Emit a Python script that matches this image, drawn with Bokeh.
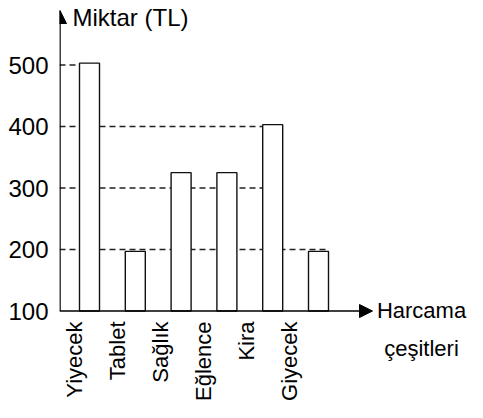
import math
from bokeh.plotting import figure
from bokeh.models import Range1d, FixedTicker, Arrow, NormalHead, Label
from bokeh.core.properties import value
from bokeh.embed import file_html
from bokeh.resources import INLINE

# ---- data ----
categories = ["Yiyecek", "Tablet", "Sağlık", "Eğlence", "Kira", "Giyecek"]
amounts = [503, 197, 325, 325, 403, 197]
y_ticks = [100, 200, 300, 400, 500]
guide_levels = [200, 300, 400, 500]
y_title = "Miktar (TL)"
x_title = ["Harcama", "çeşitleri"]

# ---- layout helpers (figure pixels -> data) ----
FONT = "Liberation Sans"
W, H = 467, 402
LEFT = 59                      # frame (and y axis) starts at x = 59
SX = 45.8                      # px per category slot
SY = 0.615                     # px per TL
BASE_PY = 310.5                # pixel y of 100 TL
X0 = -(89 - LEFT) / SX
X1 = X0 + (W - LEFT) / SX


def X(px):
    return X0 + (px - LEFT) / SX


def Y(py):
    return 100 + (BASE_PY - py) / SY


BAR_W = 20 / SX
idx = list(range(len(categories)))

p = figure(width=W, height=H, output_backend="svg", toolbar_location=None,
           x_range=Range1d(X0, X1), y_range=Range1d(Y(H), Y(0)),
           x_axis_type=None, min_border_left=LEFT, min_border_right=0,
           min_border_top=0, min_border_bottom=0)
p.outline_line_color = None
p.grid.visible = False
p.background_fill_color = "white"
p.border_fill_color = "white"

ax = p.yaxis[0]
ax.ticker = FixedTicker(ticks=y_ticks)
ax.axis_line_color = None
ax.major_tick_line_color = None
ax.minor_tick_line_color = None
ax.major_tick_out = 0
ax.major_tick_in = 0
ax.major_label_standoff = 11
ax.major_label_text_font = FONT
ax.major_label_text_font_size = "24px"
ax.major_label_text_color = "black"

# dashed guide lines, each running from the y axis to a bar edge
guide_ends = [5 + BAR_W / 2, 4 - BAR_W / 2, 4 - BAR_W / 2, 0 - BAR_W / 2]
p.segment(x0=[X(LEFT)] * len(guide_levels), y0=guide_levels,
          x1=guide_ends, y1=guide_levels,
          line_color="#222222", line_width=1.3, line_dash="6 4")

# bars
p.vbar(x=idx, top=amounts, bottom=100, width=BAR_W,
       fill_color="white", line_color="#111111", line_width=1.4)

# axes with arrow heads
head = dict(size=13, fill_color="black", line_color="black")
p.add_layout(Arrow(end=NormalHead(**head), x_start=X(LEFT + 0.5), y_start=100,
                   x_end=X(LEFT + 0.5), y_end=Y(10), line_width=1.5,
                   line_color="black"))
p.add_layout(Arrow(end=NormalHead(**head), x_start=X(LEFT), y_start=100,
                   x_end=X(372), y_end=100, line_width=1.5, line_color="black"))

# category labels (rotated)
lx = [X(74 + 43 * i) for i in idx]
p.text(x=lx, y=[Y(321)] * len(idx), text=categories, angle=math.pi / 2,
       text_align="right", text_baseline="middle",
       text_font=value(FONT), text_font_size="22px", text_color="black")

# titles
p.add_layout(Label(x=X(72), y=Y(17), text=y_title, text_align="left",
                   text_baseline="middle", text_font=FONT,
                   text_font_size="24px", text_color="black"))
p.add_layout(Label(x=X(421), y=Y(310), text=x_title[0], text_align="center",
                   text_baseline="middle", text_font=FONT,
                   text_font_size="22px", text_color="black"))
p.add_layout(Label(x=X(421), y=Y(348), text=x_title[1], text_align="center",
                   text_baseline="middle", text_font=FONT,
                   text_font_size="22px", text_color="black"))

open("out.html", "w").write(file_html(p, INLINE))
